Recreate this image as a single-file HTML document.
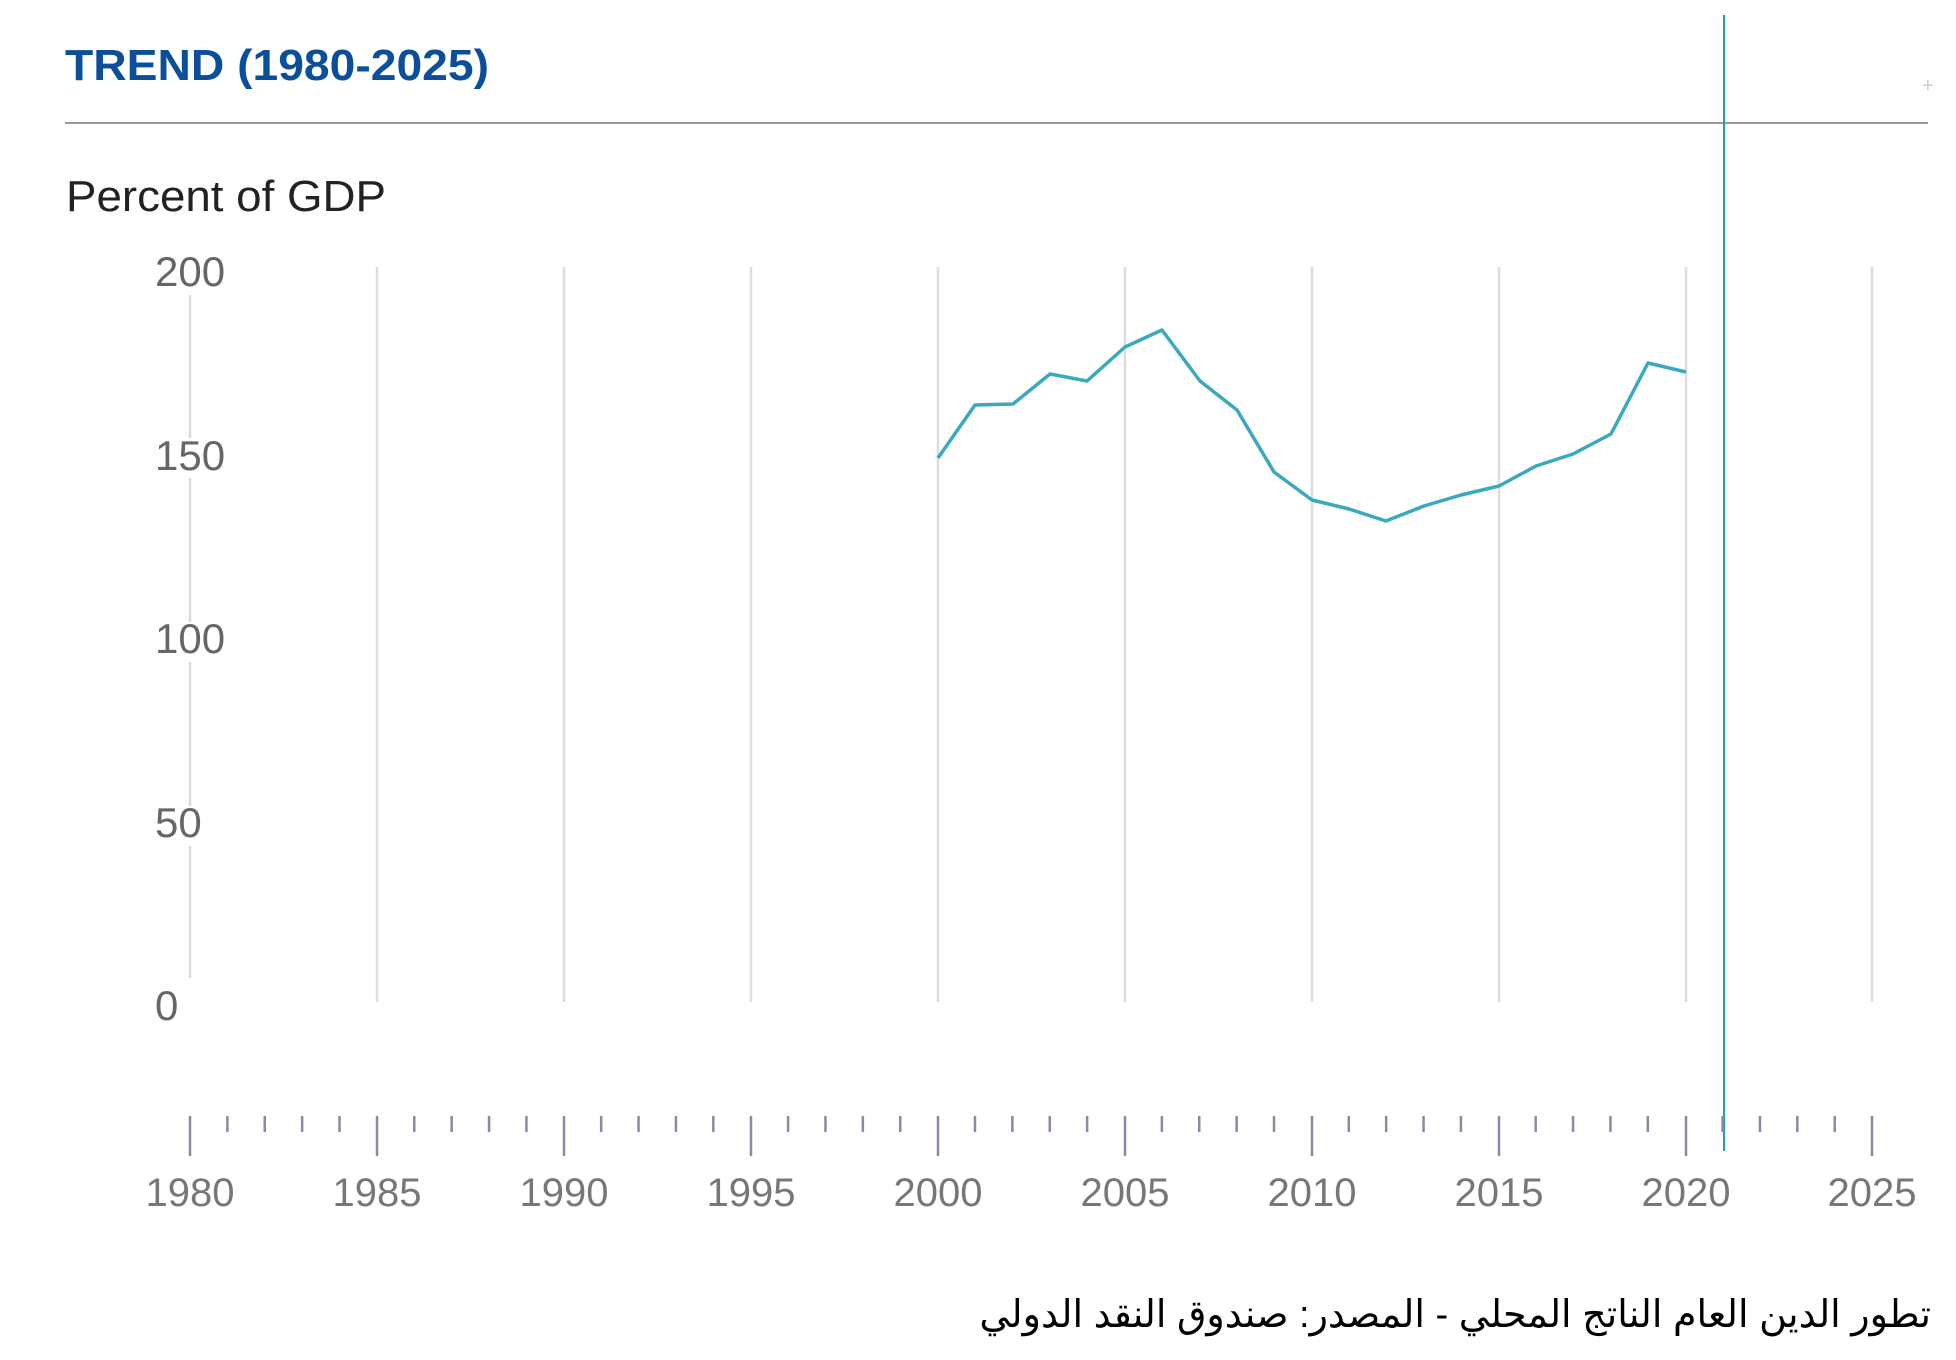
<!DOCTYPE html>
<html><head><meta charset="utf-8"><style>html,body{margin:0;padding:0;background:#fff}svg{display:block}
#ar{position:absolute;right:25px;top:1290px;font-family:"Liberation Sans","DejaVu Sans",sans-serif;font-size:38px;color:#000;direction:rtl;white-space:nowrap;line-height:50px}</style></head>
<body>
<svg width="1956" height="1360" viewBox="0 0 1956 1360" xmlns="http://www.w3.org/2000/svg">
<text x="65" y="80" font-family="Liberation Sans, sans-serif" font-weight="bold" font-size="44" fill="#0b4f9c" textLength="424" lengthAdjust="spacingAndGlyphs">TREND (1980-2025)</text>
<line x1="65" y1="123" x2="1928" y2="123" stroke="#999" stroke-width="2"/>
<text x="1922" y="92" font-family="Liberation Sans, sans-serif" font-size="20" fill="#ccc">+</text>
<text x="66" y="211" font-family="Liberation Sans, sans-serif" font-size="44" fill="#222" textLength="320" lengthAdjust="spacingAndGlyphs">Percent of GDP</text>
<g stroke="#ddd" stroke-width="2.5">
<line x1="377" y1="267" x2="377" y2="1002"/><line x1="564" y1="267" x2="564" y2="1002"/><line x1="751" y1="267" x2="751" y2="1002"/><line x1="938" y1="267" x2="938" y2="1002"/><line x1="1125" y1="267" x2="1125" y2="1002"/><line x1="1312" y1="267" x2="1312" y2="1002"/><line x1="1499" y1="267" x2="1499" y2="1002"/><line x1="1686" y1="267" x2="1686" y2="1002"/><line x1="1872" y1="267" x2="1872" y2="1002"/>
<line x1="190" y1="295" x2="190" y2="438"/><line x1="190" y1="478" x2="190" y2="622"/><line x1="190" y1="662" x2="190" y2="806"/><line x1="190" y1="846" x2="190" y2="978"/>
</g>
<g font-family="Liberation Sans, sans-serif" font-size="42" fill="#666">
<text x="155" y="286">200</text><text x="155" y="470">150</text><text x="155" y="653">100</text><text x="155" y="837">50</text><text x="155" y="1020">0</text>
</g>
<polyline fill="none" stroke="#3aa9bf" stroke-width="3.5" stroke-linejoin="round" points="938,458 975,405 1013,404 1050,374 1087,381 1125,347 1162,330 1200,381 1237,410 1274,472 1312,500 1349,509 1386,521 1424,506 1461,495 1499,486 1536,466 1573,454 1611,434 1648,363 1686,372"/>
<line x1="1724" y1="15" x2="1724" y2="1151" stroke="#1aa3b0" stroke-width="2"/>
<g stroke="#8a8aa8" stroke-width="2.5">
<line x1="190" y1="1116" x2="190" y2="1156"/><line x1="377" y1="1116" x2="377" y2="1156"/><line x1="564" y1="1116" x2="564" y2="1156"/><line x1="751" y1="1116" x2="751" y2="1156"/><line x1="938" y1="1116" x2="938" y2="1156"/><line x1="1125" y1="1116" x2="1125" y2="1156"/><line x1="1312" y1="1116" x2="1312" y2="1156"/><line x1="1499" y1="1116" x2="1499" y2="1156"/><line x1="1686" y1="1116" x2="1686" y2="1156"/><line x1="1872" y1="1116" x2="1872" y2="1156"/>
</g>
<g stroke="#8a8aa8" stroke-width="2.5" id="minor"></g>
<script>
var g=document.getElementById('minor');
for(var y=1981;y<2025;y++){if(y%5==0)continue;var x=190+(y-1980)*37.38;var l=document.createElementNS('http://www.w3.org/2000/svg','line');l.setAttribute('x1',x);l.setAttribute('x2',x);l.setAttribute('y1',1116);l.setAttribute('y2',1132);g.appendChild(l);}
</script>
<g font-family="Liberation Sans, sans-serif" font-size="40" fill="#777" text-anchor="middle">
<text x="190" y="1206">1980</text><text x="377" y="1206">1985</text><text x="564" y="1206">1990</text><text x="751" y="1206">1995</text><text x="938" y="1206">2000</text><text x="1125" y="1206">2005</text><text x="1312" y="1206">2010</text><text x="1499" y="1206">2015</text><text x="1686" y="1206">2020</text><text x="1872" y="1206">2025</text>
</g>
</svg>
<div id="ar">تطور الدين العام الناتج المحلي - المصدر: صندوق النقد الدولي</div>
</body></html>
